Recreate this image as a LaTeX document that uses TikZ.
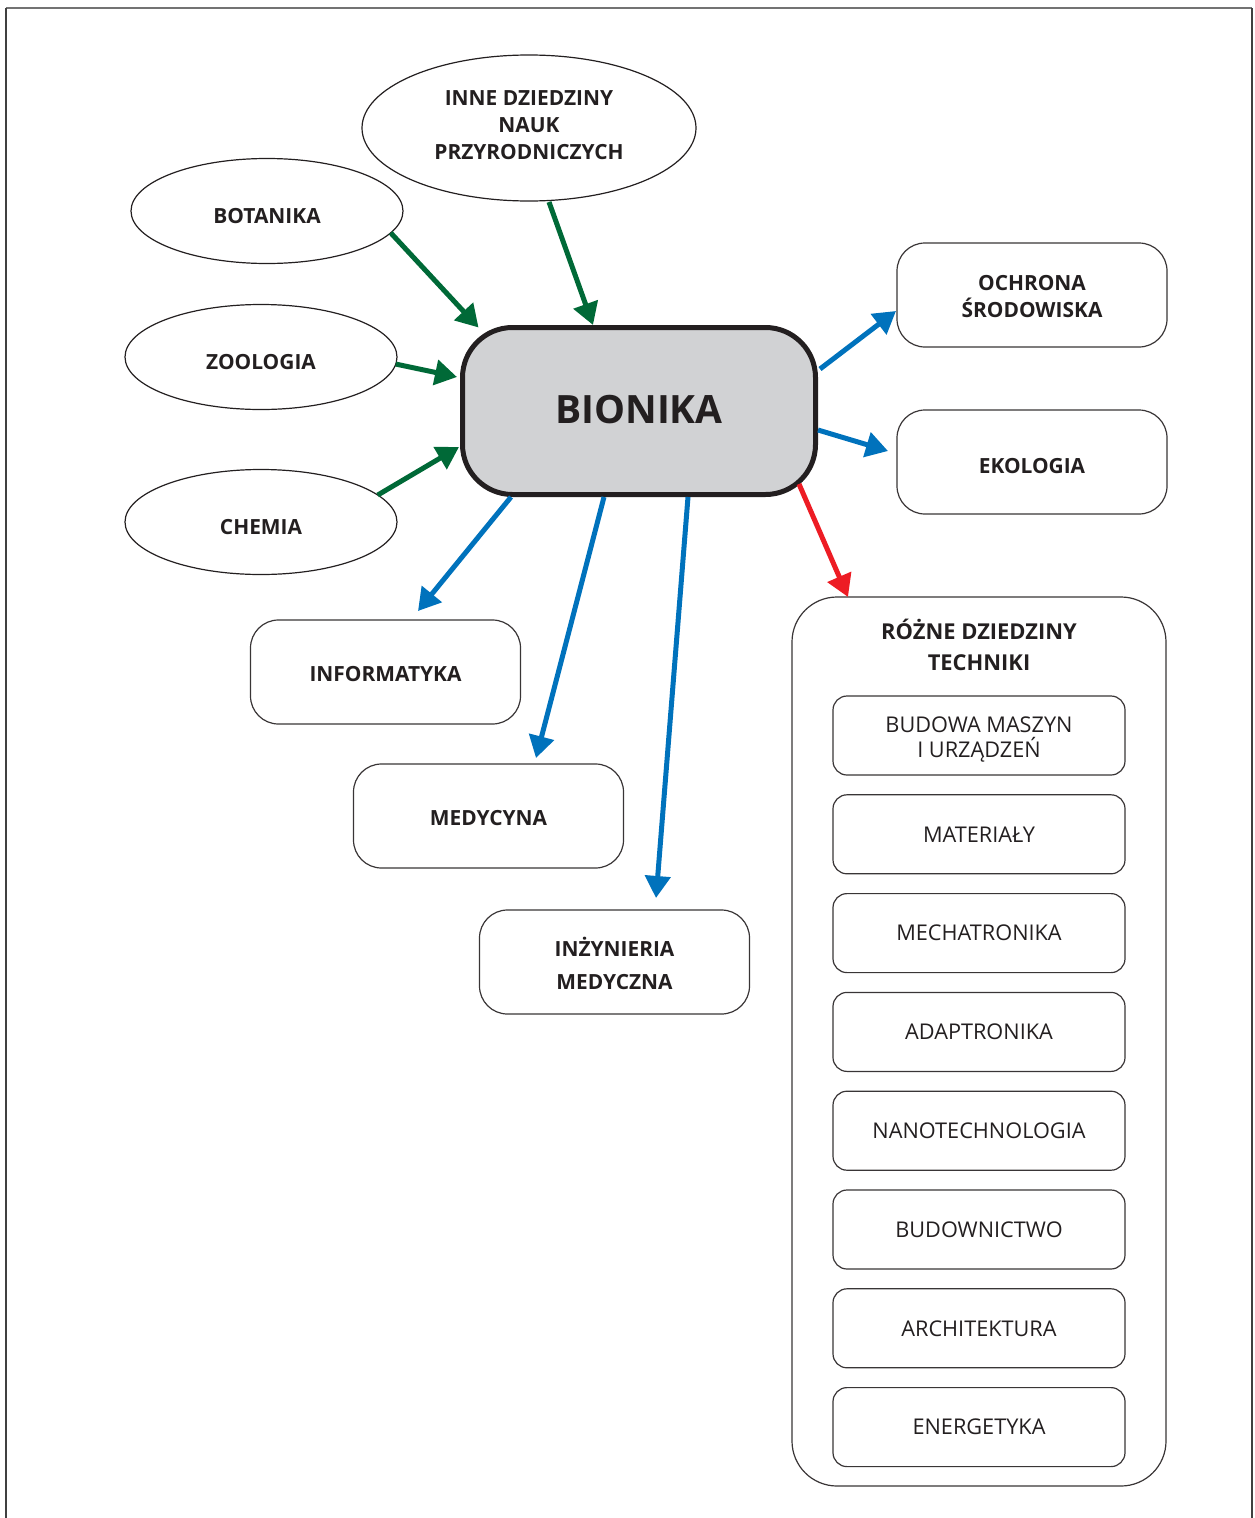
\documentclass[tikz,border=0pt]{standalone}
\usepackage{fontspec}
\setmainfont{Open Sans}
\usetikzlibrary{shapes.geometric,arrows.meta}
\definecolor{grn}{RGB}{0,105,55}
\definecolor{blu}{RGB}{0,114,188}
\definecolor{rd}{RGB}{237,28,36}
\definecolor{bfill}{RGB}{209,210,212}
\definecolor{bline}{RGB}{35,31,32}
\newcommand{\up}[1]{\rule{0pt}{#1}}
\newcommand{\dn}[1]{\rule[-#1]{0pt}{#1}}
\begin{document}
\begin{tikzpicture}[x=1pt,y=-1pt,
  every node/.style={outer sep=0pt, inner sep=0pt, text=bline},
  oval/.style={ellipse, draw=bline, line width=1.2pt, minimum width=272pt, minimum height=105pt, align=center, font=\fontsize{20.9}{27}\selectfont\bfseries},
  box/.style={rectangle, rounded corners=28pt, draw=bline!90, line width=1.2pt, minimum width=270pt, minimum height=104pt, align=center, font=\fontsize{20.9}{27}\selectfont\bfseries},
  sub/.style={rectangle, rounded corners=14pt, draw=bline!90, line width=1.2pt, minimum width=292pt, minimum height=79pt, align=center, font=\fontsize{21.7}{25}\selectfont},
  arr/.style={line width=5pt, -{Triangle[length=22pt,width=25pt]}},
  garr/.style={arr, draw=grn, fill=grn},
  barr/.style={arr, draw=blu, fill=blu},
  rarr/.style={arr, draw=rd, fill=rd}
]
\useasboundingbox (0,0) rectangle (1255,1518);
% frame
\draw[line width=1.5pt, black!55] (6,8) -- (1252,8);
\draw[line width=1.8pt, black!75] (6,8) -- (6,1518);
\draw[line width=1.8pt, black!75] (1252,8) -- (1252,1518);

% central node
\node[rectangle, rounded corners=50pt, draw=bline, line width=5pt, fill=bfill,
      minimum width=353pt, minimum height=167pt, font=\fontsize{39}{45}\selectfont\bfseries]
      (bion) at (639,411) {BIONIKA\dn{4pt}};

% ellipses
\node[oval, minimum width=334pt, minimum height=146pt] (inne) at (529,128) {INNE DZIEDZINY\\NAUK\\PRZYRODNICZYCH\dn{6pt}};
\node[oval] (bot) at (267,211) {\up{24.9pt}BOTANIKA};
\node[oval] (zoo) at (261,357) {\up{24.9pt}ZOOLOGIA};
\node[oval] (chem) at (261,522) {\up{24.9pt}CHEMIA};

% right boxes
\node[box] (och) at (1032,295) {\up{18.9pt}OCHRONA\\ŚRODOWISKA};
\node[box] (eko) at (1032,462) {\up{22.9pt}EKOLOGIA};

% lower boxes
\node[box] (info) at (385.5,672) {\up{18.9pt}INFORMATYKA};
\node[box] (med) at (488.5,816) {\up{18.9pt}MEDYCYNA};
\node[box, font=\fontsize{20.9}{33}\selectfont\bfseries] (inz) at (614.5,962) {\up{21.4pt}INŻYNIERIA\\MEDYCZNA};

% techniki group
\node[rectangle, rounded corners=45pt, draw=bline!90, line width=1.2pt,
      minimum width=374pt, minimum height=889pt] (rozne) at (979,1041.5) {};
\node[align=center, font=\fontsize{21.9}{31}\selectfont\bfseries] (rtitle) at (979,644.5) {RÓŻNE DZIEDZINY\\TECHNIKI};
\node[sub] (s1) at (979,735.5) {\up{23.5pt}BUDOWA MASZYN\\I URZĄDZEŃ};
\node[sub] (s2) at (979,834.3) {MATERIAŁY};
\node[sub] (s3) at (979,933.1) {MECHATRONIKA};
\node[sub] (s4) at (979,1031.9) {ADAPTRONIKA};
\node[sub] (s5) at (979,1130.7) {NANOTECHNOLOGIA};
\node[sub] (s6) at (979,1229.5) {BUDOWNICTWO};
\node[sub] (s7) at (979,1328.3) {ARCHITEKTURA};
\node[sub] (s8) at (979,1427.1) {ENERGETYKA};

% green arrows (in)
\draw[garr] (bot.-10) -- ([shift={(16,0)}]bion.north west);
\draw[garr] ([shift={(20,1)}]inne.south) -- ([shift={(130.5,-2.5)}]bion.north west);
\draw[garr] (zoo.-3) -- ([shift={(-5.5,-34)}]bion.west);
\draw[garr] (chem.13) -- ([shift={(-3.5,36)}]bion.west);

% blue arrows (out)
\draw[barr] ([shift={(4.5,-42)}]bion.east) -- ([shift={(-1,16)}]och.west);
\draw[barr] ([shift={(2.5,19)}]bion.east) -- ([shift={(-9,-11)}]eko.west);
\draw[barr] ([shift={(48.5,2.5)}]bion.south west) -- ([shift={(32.5,-9)}]info.north);
\draw[barr] ([shift={(141.5,2.5)}]bion.south west) -- ([shift={(47.5,-6)}]med.north);
\draw[barr] ([shift={(225.5,2.5)}]bion.south west) -- ([shift={(41.5,-12)}]inz.north);

% red arrow
\draw[rarr] ([shift={(-16.5,-10.5)}]bion.south east) -- ([shift={(56,0)}]rozne.north west);
\end{tikzpicture}
\end{document}
